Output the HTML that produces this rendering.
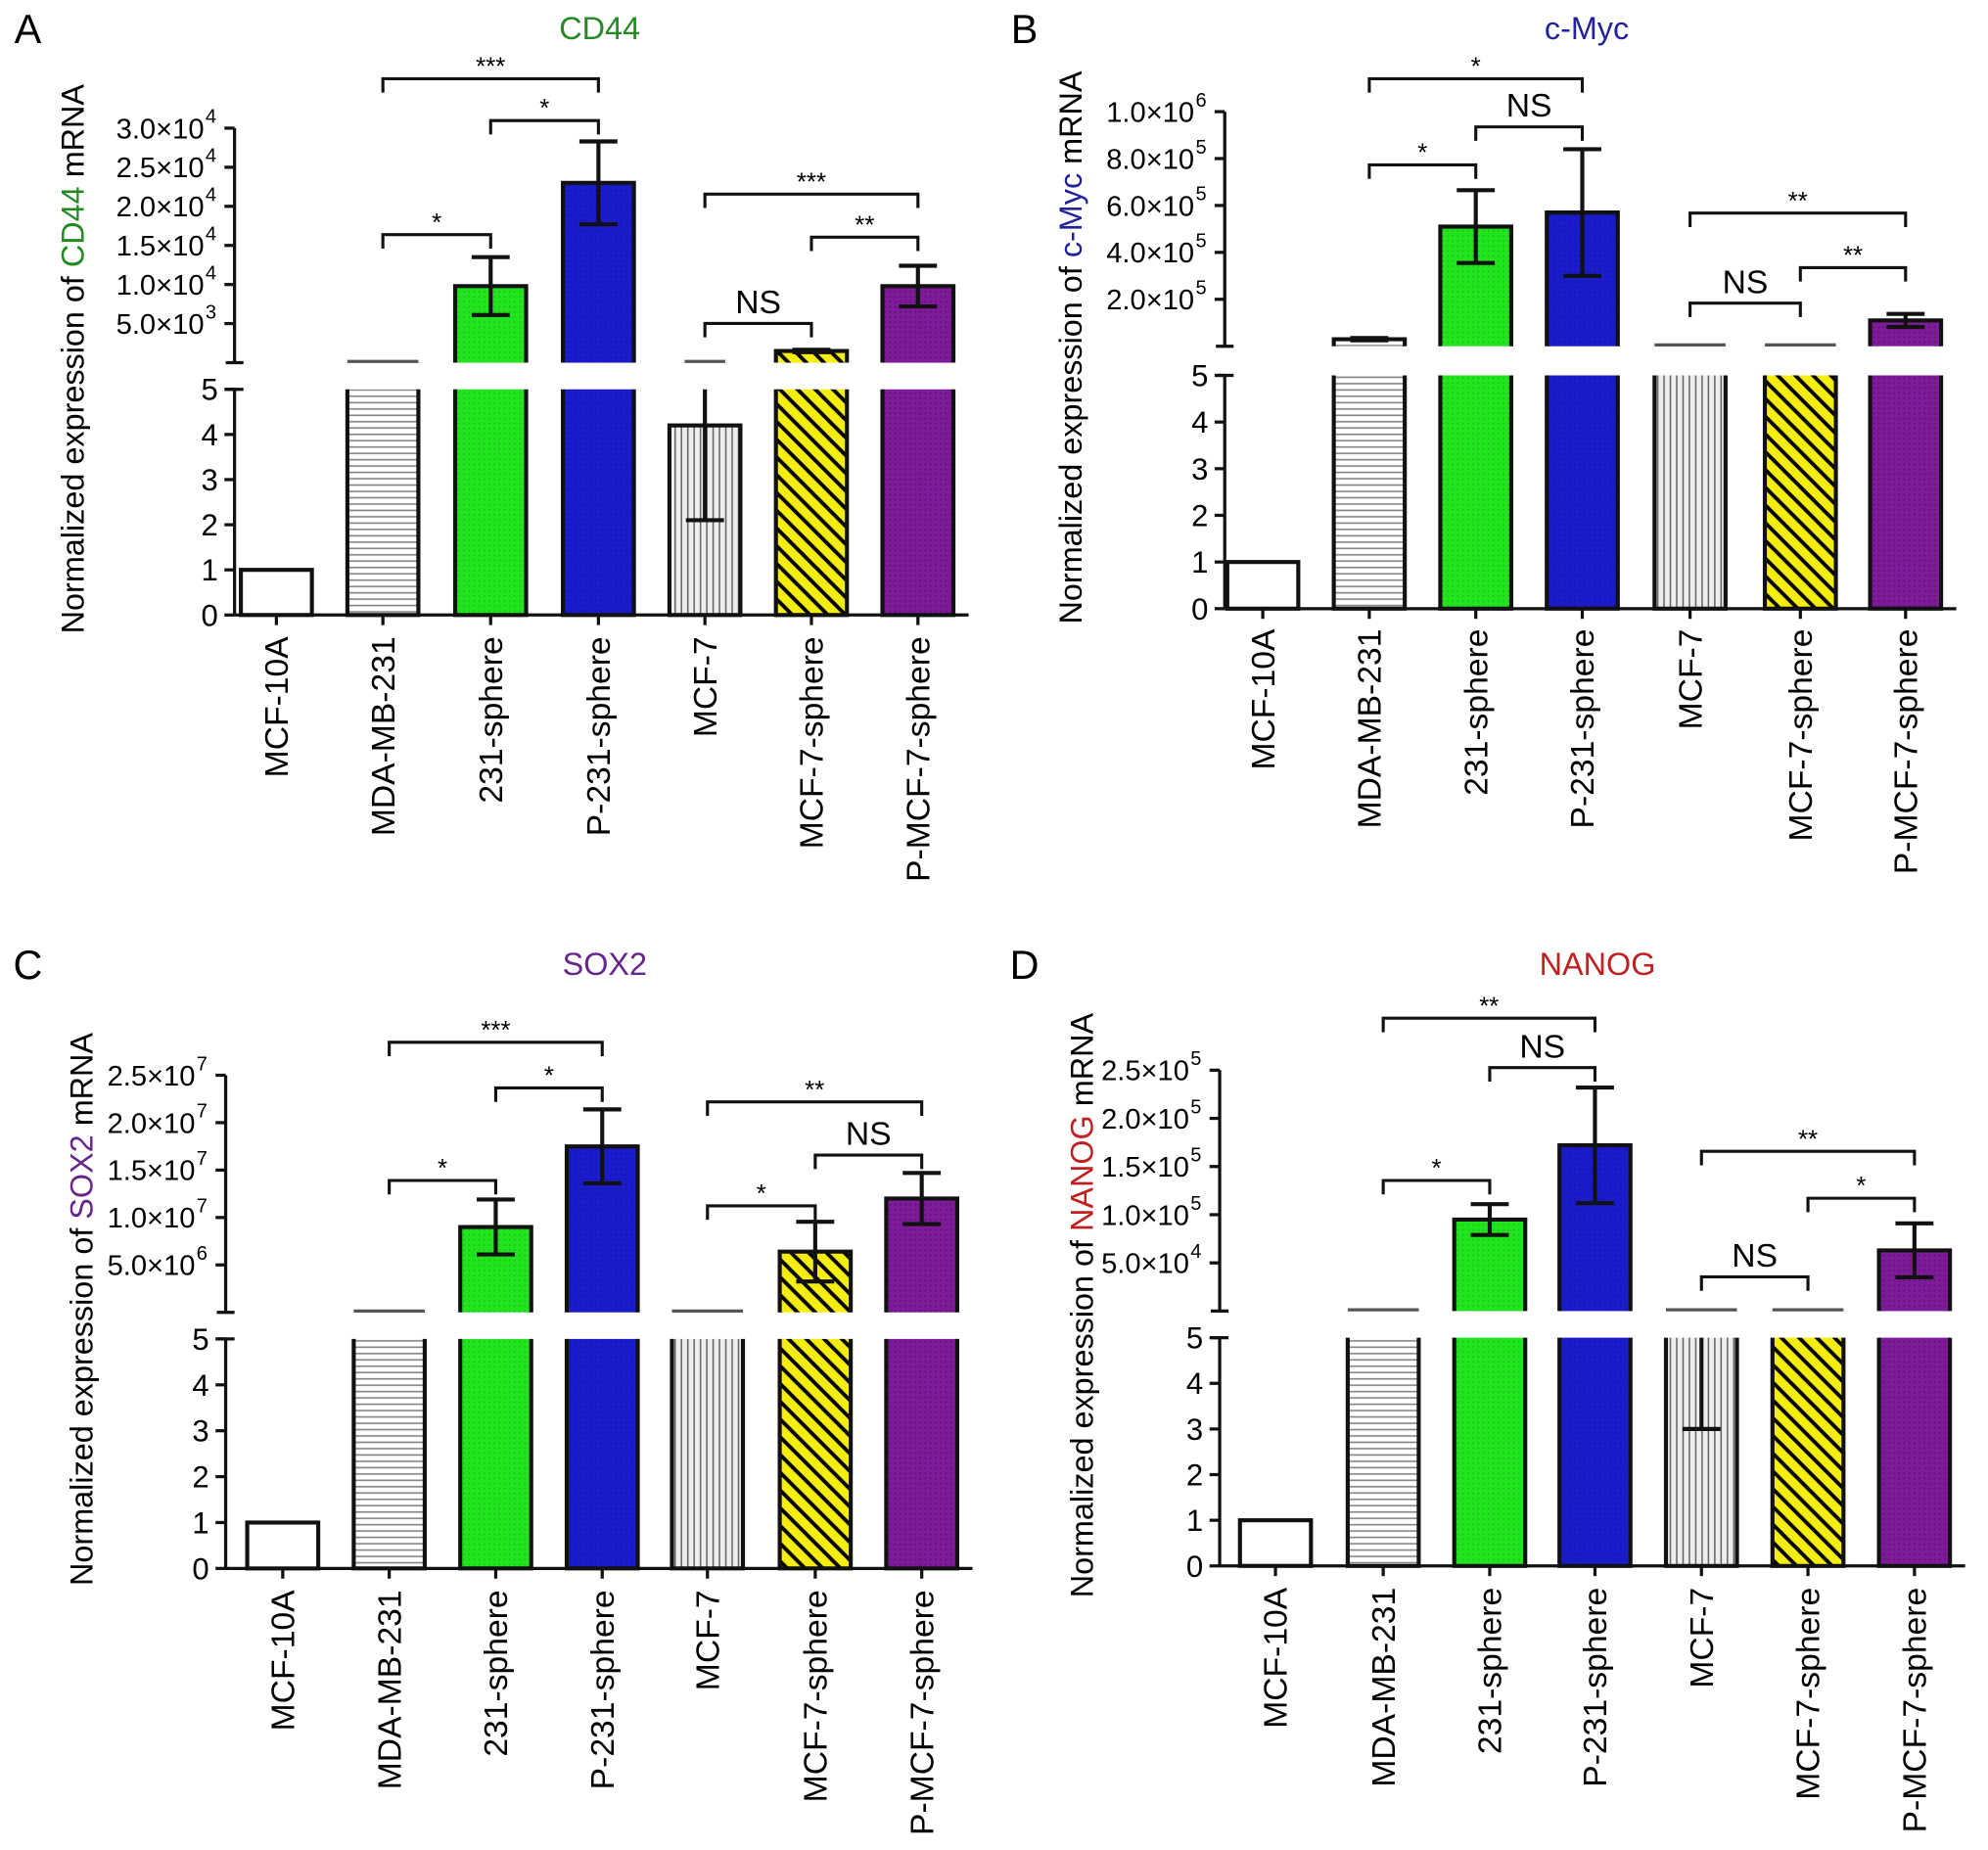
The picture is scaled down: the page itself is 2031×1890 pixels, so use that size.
<!DOCTYPE html>
<html><head><meta charset="utf-8"><style>
html,body{margin:0;padding:0;background:#fff}
svg{display:block}
text{font-family:"Liberation Sans",Arial,sans-serif}
</style></head><body>
<svg id="fig" xmlns="http://www.w3.org/2000/svg" width="2031" height="1890" viewBox="0 0 1568 1459">
<defs>
<pattern id="pH" width="6" height="5" patternUnits="userSpaceOnUse"><rect width="6" height="5" fill="#fff"/><line x1="0" y1="2.5" x2="6" y2="2.5" stroke="#888" stroke-width="1.3"/></pattern>
<pattern id="pV" width="5" height="6" patternUnits="userSpaceOnUse"><rect width="5" height="6" fill="#eee"/><line x1="2.5" y1="0" x2="2.5" y2="6" stroke="#666" stroke-width="1.2"/></pattern>
<pattern id="pG" width="4" height="4" patternUnits="userSpaceOnUse"><rect width="4" height="4" fill="#22e41e"/><circle cx="2" cy="2" r="0.7" fill="#18c018"/></pattern>
<pattern id="pB" width="4" height="4" patternUnits="userSpaceOnUse"><rect width="4" height="4" fill="#1a1ccc"/><circle cx="2" cy="2" r="0.7" fill="#1414a8"/></pattern>
<pattern id="pY" width="14" height="14" patternUnits="userSpaceOnUse"><rect width="14" height="14" fill="#f5ec10"/><path d="M-3.5,3.5 L3.5,-3.5 M0,14 L14,0 M10.5,17.5 L17.5,10.5" stroke="#000" stroke-width="3" transform="scale(-1,1) translate(-14,0)"/></pattern>
<pattern id="pP" width="4" height="4" patternUnits="userSpaceOnUse"><rect width="4" height="4" fill="#7d1b98"/><circle cx="2" cy="2" r="0.8" fill="#66107e"/></pattern>
</defs>
</svg>
<script>
const categories=["MCF-10A","MDA-MB-231","231-sphere","P-231-sphere","MCF-7","MCF-7-sphere","P-MCF-7-sphere"];
const fills=["#fff","url(#pH)","url(#pG)","url(#pB)","url(#pV)","url(#pY)","url(#pP)"];
// panel A CD44
const meansA=[1,60,9800,23000,4.2,1500,9800];
const sdA=[0,0,3700,5300,2.1,150,2600];
const upperTicksA=["5.0×10^3","1.0×10^4","1.5×10^4","2.0×10^4","2.5×10^4","3.0×10^4"];
const upperTickValsA=[5000,10000,15000,20000,25000,30000];
// panel B c-Myc
const meansB=[1,30000,510000,570000,6,10000,110000];
const sdB=[0,5000,155000,270000,0,3000,28000];
const upperTicksB=["2.0×10^5","4.0×10^5","6.0×10^5","8.0×10^5","1.0×10^6"];
const upperTickValsB=[200000,400000,600000,800000,1000000];
// panel C SOX2
const meansC=[1,60,9000000,17500000,6,6400000,12000000];
const sdC=[0,0,2900000,3900000,0,3150000,2700000];
const upperTicksC=["5.0×10^6","1.0×10^7","1.5×10^7","2.0×10^7","2.5×10^7"];
const upperTickValsC=[5000000,10000000,15000000,20000000,25000000];
// panel D NANOG
const meansD=[1,60,95000,172000,8,3000,63000];
const sdD=[0,0,16000,60000,5,500,28000];
const upperTicksD=["5.0×10^4","1.0×10^5","1.5×10^5","2.0×10^5","2.5×10^5"];
const upperTickValsD=[50000,100000,150000,200000,250000];
const lowerTicks=[0,1,2,3,4,5];

const panels=[
 {id:"a",letter:"A",lx:22,ly:22,title:"CD44",color:"#238a23",means:meansA,sd:sdA,ut:upperTicksA,uv:upperTickValsA,
  ax:185,xs:[218,302,387,472,556,640,724],l0:485,l5:307,u0:286,uTopV:30000,uTop:101,ytx:66,xlY:502,
  br:[[1,3,62,"***"],[2,3,95,"*"],[1,2,185,"*"],[4,6,153,"***"],[5,6,187,"**"],[4,5,255,"NS"]]},
 {id:"b",letter:"B",lx:808,ly:22,title:"c-Myc",color:"#22229c",means:meansB,sd:sdB,ut:upperTicksB,uv:upperTickValsB,
  ax:966,xs:[996,1080,1164,1248,1333,1420,1503],l0:480,l5:296,u0:273,uTopV:1000000,uTop:88,ytx:853,xlY:496,
  br:[[1,3,62,"*"],[2,3,100,"NS"],[1,2,130,"*"],[4,6,168,"**"],[5,6,211,"**"],[4,5,239,"NS"]]},
 {id:"c",letter:"C",lx:22,ly:760,title:"SOX2",color:"#67268a",means:meansC,sd:sdC,ut:upperTicksC,uv:upperTickValsC,
  ax:178,xs:[223,307,391,475,558,643,727],l0:1237,l5:1056,u0:1035,uTopV:25000000,uTop:848,ytx:73,xlY:1254,
  br:[[1,3,822,"***"],[2,3,858,"*"],[1,2,931,"*"],[4,6,869,"**"],[5,6,911,"NS"],[4,5,951,"*"]]},
 {id:"d",letter:"D",lx:808,ly:760,title:"NANOG",color:"#c02020",means:meansD,sd:sdD,ut:upperTicksD,uv:upperTickValsD,
  ax:962,xs:[1006,1091,1175,1258,1342,1426,1510],l0:1235,l5:1055,u0:1034,uTopV:250000,uTop:844,ytx:862,xlY:1252,
  br:[[1,3,803,"**"],[2,3,842,"NS"],[1,2,931,"*"],[4,6,908,"**"],[5,6,945,"*"],[4,5,1007,"NS"]]}
];
const NS="http://www.w3.org/2000/svg";
const svg=document.getElementById("fig");
function mk(tag,attrs,parent,txt){const e=document.createElementNS(NS,tag);for(const k in attrs)e.setAttribute(k,attrs[k]);if(txt!==undefined)e.textContent=txt;(parent||svg).appendChild(e);return e;}
const BW=56;
panels.forEach(p=>{
 const g=mk("g",{});
 
 
 const yl=v=>p.l0-(p.l0-p.l5)*Math.min(v,5)/5;
 const yu=v=>p.u0-(p.u0-p.uTop)*v/p.uTopV;
 const L=mk("text",{x:p.lx,y:p.ly+12,"font-size":32,"text-anchor":"middle"},g,p.letter);
 
 
 const T=mk("text",{x:(p.xs[0]+p.xs[6])/2+2,y:p.ly+9,"font-size":25,"text-anchor":"middle",fill:p.color},g,p.title);
 
 
 const yc=(p.l0+p.uTop)/2-10;
 const yt=mk("text",{x:p.ytx,y:yc,"font-size":25,"text-anchor":"middle",transform:`rotate(-90 ${p.ytx} ${yc})`},g);
 
 
 mk("tspan",{},yt,"Normalized expression of ");mk("tspan",{fill:p.color},yt,p.title);mk("tspan",{},yt," mRNA");
 p.means.forEach((m,i)=>{
  const cx=p.xs[i];
  const yt0=yl(m);
  const x0=cx-BW/2,x1=cx+BW/2;
  if(m>5){
   const b=mk("rect",{x:x0,y:yt0,width:BW,height:p.l0-yt0,fill:fills[i]},g);
   
   
   mk("path",{d:`M${x0},${yt0}V${p.l0}H${x1}V${yt0}`,stroke:"#111","stroke-width":3.2,fill:"none"},g);
   const h=Math.max(p.u0-yu(m),0.5);
   if(h<3){
    const ub=mk("line",{x1:x0,x2:x1,y1:p.u0-1,y2:p.u0-1,stroke:"#555","stroke-width":2.5},g);
    
    
   } else {
    const ub=mk("rect",{x:x0,y:p.u0-h,width:BW,height:h,fill:fills[i]},g);
    
    
    mk("path",{d:`M${x0},${p.u0}V${p.u0-h}H${x1}V${p.u0}`,stroke:"#111","stroke-width":3.2,fill:"none"},g);
    if(p.sd[i]>0){
     const a=yu(m-p.sd[i]),c=yu(m+p.sd[i]);
     mk("path",{d:`M${cx},${a}V${c}M${cx-15},${a}h30M${cx-15},${c}h30`,stroke:"#111","stroke-width":3.2,fill:"none"},g);
    }
   }
  } else {
   const b=mk("rect",{x:x0,y:yt0,width:BW,height:p.l0-yt0,fill:fills[i],stroke:"#111","stroke-width":3.2},g);
   
   
   if(m>1.5){
    const ub=mk("line",{x1:cx-16,x2:cx+16,y1:p.u0-1,y2:p.u0-1,stroke:"#555","stroke-width":2.5},g);
    
    
   }
  }
  if(p.sd[i]>0&&m<=20){
   const a=yl(m-p.sd[i]),c=yl(m+p.sd[i]);
   mk("path",{d:`M${cx},${a}V${c}M${cx-15},${a}h30`+(m+p.sd[i]<=5?`M${cx-15},${c}h30`:""),stroke:"#111","stroke-width":3.2,fill:"none"},g);
  }
 });
 const xr=p.xs[6]+BW/2+12;
 const xa=mk("path",{d:`M${p.ax},${p.l0}H${xr}`+p.xs.map(x=>`M${x},${p.l0}v8`).join(""),stroke:"#111","stroke-width":2.5,fill:"none"},g);
 
 
 const ya=mk("path",{d:`M${p.ax},${p.l0}V${p.l5}M${p.ax-7},${p.l5}h14M${p.ax},${p.u0}V${p.uTop}M${p.ax-7},${p.u0}h14`,stroke:"#111","stroke-width":2.5,fill:"none"},g);
 
 
 lowerTicks.forEach(v=>{
  mk("line",{x1:p.ax-8,x2:p.ax,y1:yl(v),y2:yl(v),stroke:"#111","stroke-width":2.5},g);
  const t=mk("text",{x:p.ax-13,y:yl(v)+8.5,"font-size":24,"text-anchor":"end"},g,String(v));
  
  
 });
 p.uv.forEach((v,k)=>{
  const y=yu(v);
  mk("line",{x1:p.ax-8,x2:p.ax,y1:y,y2:y,stroke:"#111","stroke-width":2.5},g);
  const parts=p.ut[k].split("^");
  const t=mk("text",{x:p.ax-24,y:y+8,"font-size":22.5,"text-anchor":"end"},g,parts[0]);
  
  
  mk("text",{x:p.ax-23,y:y-4,"font-size":15.5,"text-anchor":"start"},g,parts[1]);
 });
 categories.forEach((c,i)=>{
  const x=p.xs[i]+9,y=p.xlY;
  const t=mk("text",{x:x,y:y,"font-size":26,"text-anchor":"end",transform:`rotate(-90 ${x} ${y})`},g,c);
  
  
 });
 p.br.forEach(b=>{
  const x1=p.xs[b[0]],x2=p.xs[b[1]],y=b[2];
  const pa=mk("path",{d:`M${x1},${y+11}V${y}H${x2}V${y+11}`,stroke:"#111","stroke-width":2.4,fill:"none"},g);
  
  
  const isNS=b[3]==="NS";
  const t=mk("text",{x:(x1+x2)/2,y:isNS?y-8:y-3,"font-size":isNS?26:20,"text-anchor":"middle"},g,b[3]);
  
  
 });
});
</script>
</body></html>
